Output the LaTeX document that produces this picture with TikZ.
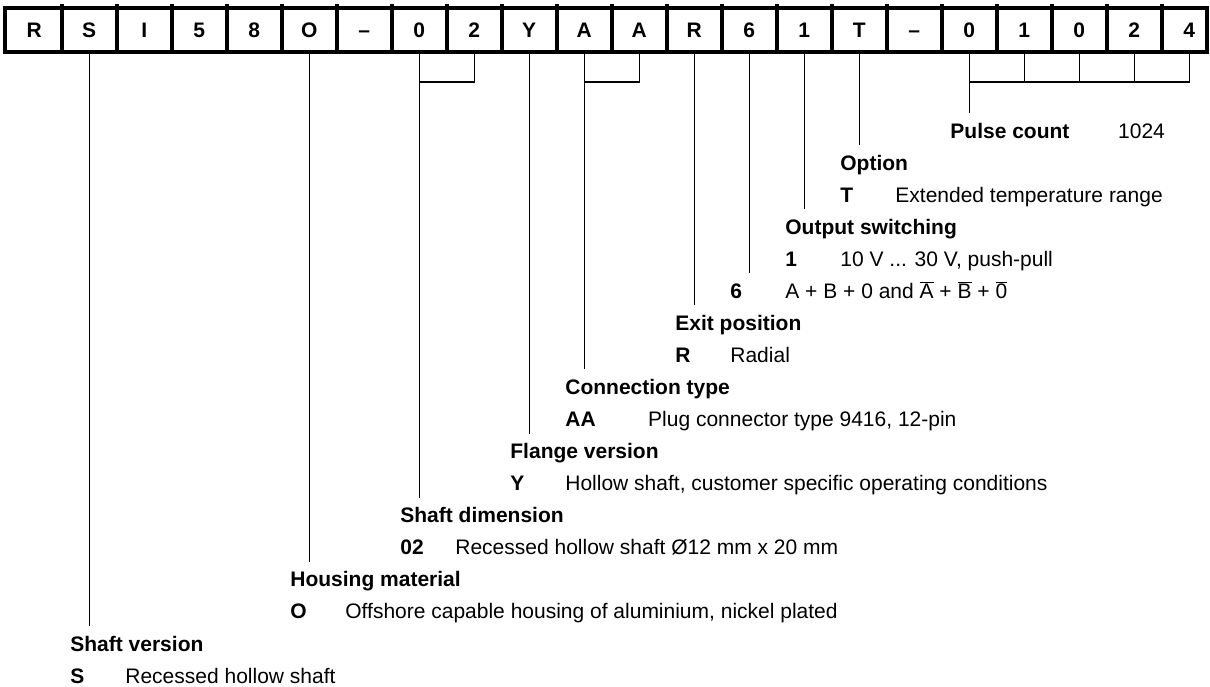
\documentclass[tikz,border=0pt]{standalone}
\usepackage{fontspec}
\setmainfont{Liberation Sans}
\usetikzlibrary{calc}
\begin{document}
\begin{tikzpicture}[x=1pt,y=-1pt,
  cell/.style={minimum width=55pt, minimum height=44.2pt, inner sep=0pt, text height=15pt, text depth=0pt, font=\fontsize{21}{25}\selectfont\bfseries},
  frame/.style={line width=4pt},
  conn/.style={line width=1.3pt},
  hd/.style={anchor=base west, inner sep=0pt, font=\fontsize{21}{25}\selectfont\bfseries},
  txt/.style={anchor=base west, inner sep=0pt, font=\fontsize{21}{25}\selectfont}]
\useasboundingbox (0,0) rectangle (1210,686);
% code cells
\foreach \ch [count=\i from 0] in {R,S,I,5,8,O,–,0,2,Y,A,A,R,6,1,T,–,0,1,0,2,4}
  \node[cell] (c\i) at (34.2+55*\i, 29.6) {\ch};
\draw[frame] (5,7.5) rectangle (1207,51.7);
\foreach \k in {1,...,21}
  \draw[frame] (6.7+55*\k, 4) -- (6.7+55*\k, 51.7);

% headings and entries
\node[hd] (hPulse) at (950.2,138) {Pulse count};
\node[txt] (vPulse) at (1118,138) {1024};
\node[hd] (hOpt) at (840.2,170.1) {Option};
\node[hd] (kT) at (840.2,202.1) {T};
\node[txt] (vT) at (895.2,202.1) {Extended temperature range};
\node[hd] (hOut) at (785.2,234.2) {Output switching};
\node[hd] (k1) at (785.2,266.2) {1};
\node[txt] (v1) at (840.2,266.2) {10 V ... 30 V, push-pull};
\node[hd] (k6) at (730.2,298.3) {6};
\node[txt] (v6) at (785.2,298.3) {A + B + 0 and $\overline{\mbox{A}}$ + $\overline{\mbox{B}}$ + $\overline{\mbox{0}}$};
\node[hd] (hExit) at (675.2,330.4) {Exit position};
\node[hd] (kR) at (675.2,362.4) {R};
\node[txt] (vR) at (730.2,362.4) {Radial};
\node[hd] (hConn) at (565.2,394.5) {Connection type};
\node[hd] (kAA) at (565.2,426.5) {AA};
\node[txt] (vAA) at (648,426.5) {Plug connector type 9416, 12-pin};
\node[hd] (hFl) at (510.2,458.6) {Flange version};
\node[hd] (kY) at (510.2,490.7) {Y};
\node[txt] (vY) at (565.2,490.7) {Hollow shaft, customer specific operating conditions};
\node[hd] (hSD) at (400.2,522.7) {Shaft dimension};
\node[hd] (k02) at (400.2,554.8) {02};
\node[txt] (v02) at (455.2,554.8) {Recessed hollow shaft Ø12 mm x 20 mm};
\node[hd] (hHM) at (290.2,586.8) {Housing material};
\node[hd] (kO) at (290.2,618.9) {O};
\node[txt] (vO) at (345.2,618.9) {Offshore capable housing of aluminium, nickel plated};
\node[hd] (hSV) at (70.2,651) {Shaft version};
\node[hd] (kS) at (70.2,683) {S};
\node[txt] (vS) at (125.2,683) {Recessed hollow shaft};

% connector end points
\coordinate (eS) at (89.2,626);
\coordinate (eO) at (309.2,562);
\coordinate (e02) at (419.2,498);
\coordinate (eY) at (529.2,434);
\coordinate (eAA) at (584.2,369);
\coordinate (eR) at (694.2,305);
\coordinate (e6) at (749.2,273);
\coordinate (e1) at (804.2,209);
\coordinate (eT) at (859.2,145);
\coordinate (eP) at (969.2,113);
\coordinate (j02) at (419.2,82);
\coordinate (jAA) at (584.2,82);
\coordinate (jP) at (969.2,82);

% connectors
\draw[conn] (c1.south) -- (eS);
\draw[conn] (c5.south) -- (eO);
\draw[conn] (c8.south) |- (j02);
\draw[conn] (c7.south) -- (e02);
\draw[conn] (c9.south) -- (eY);
\draw[conn] (c11.south) |- (jAA);
\draw[conn] (c10.south) -- (eAA);
\draw[conn] (c12.south) -- (eR);
\draw[conn] (c13.south) -- (e6);
\draw[conn] (c14.south) -- (e1);
\draw[conn] (c15.south) -- (eT);
\draw[conn] (c21.south) |- (jP);
\foreach \i in {18,19,20} \draw[conn] (c\i.south) -- (c\i.south |- jP);
\draw[conn] (c17.south) -- (eP);
\end{tikzpicture}
\end{document}
